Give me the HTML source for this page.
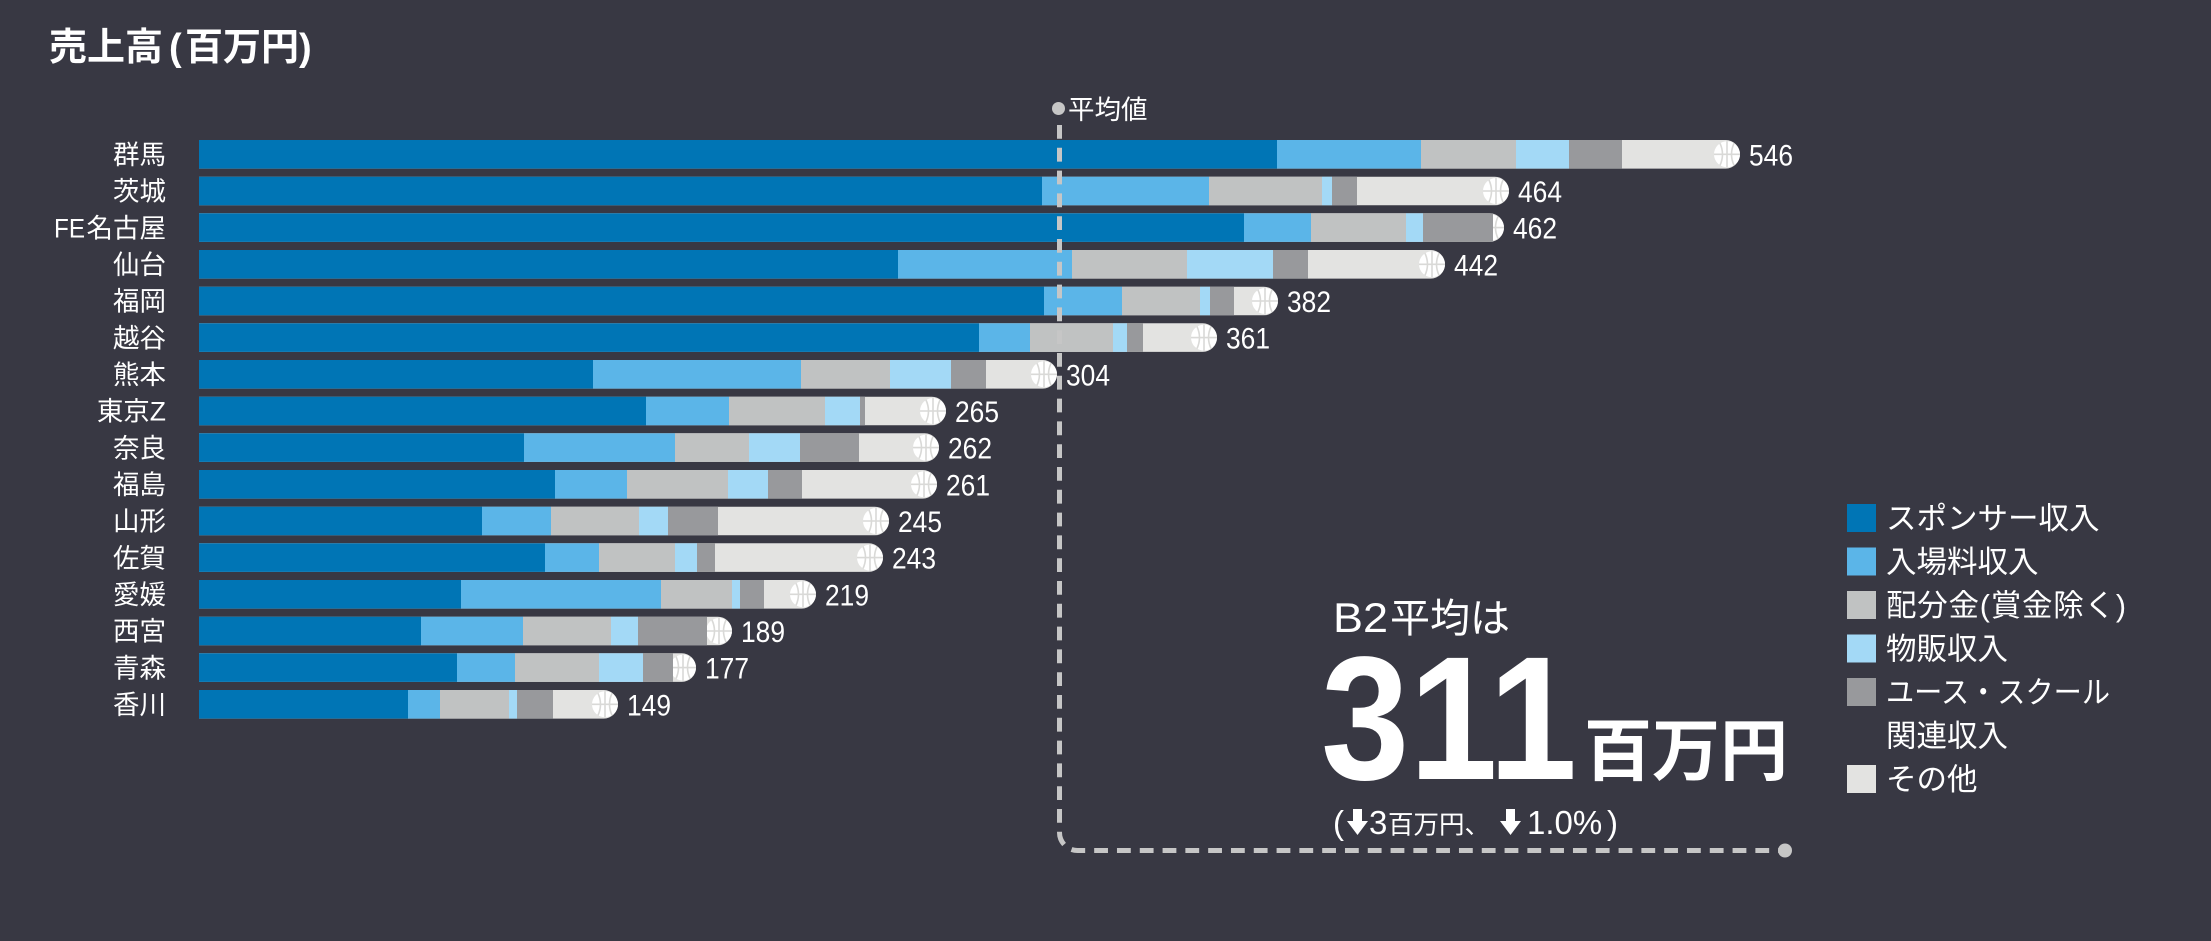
<!DOCTYPE html>
<html lang="ja">
<head>
<meta charset="utf-8">
<style>
html,body{margin:0;padding:0;background:#383843;}
svg{display:block;}
text{font-family:"Liberation Sans","Noto Sans CJK JP",sans-serif;fill:#ffffff;}
.a{fill:#0075b5}.b{fill:#5bb5e8}.c{fill:#c0c2c2}.d{fill:#a3d9f6}.e{fill:#98999c}.f{fill:#e3e3e1}
.yl{font-size:26.5px;text-anchor:end;}
.vl{font-size:30px;}
.lg{font-size:30.5px;}
</style>
</head>
<body>
<svg width="2211" height="941" viewBox="0 0 2211 941" xmlns="http://www.w3.org/2000/svg">
<defs>
<g id="ball"><circle r="13" fill="#ffffff"/><path d="M0 -13V13M-13 0H13M-7 -11Q-2 0 -7 11M7 -11Q2 0 7 11" stroke="#d9d9d7" stroke-width="1.6" fill="none"/></g>
</defs>
<rect width="2211" height="941" fill="#383843"/>

<!-- Title -->
<text y="60" style="font-size:38px;font-weight:700;"><tspan x="49">売上高</tspan><tspan x="169">(</tspan><tspan x="185">百万円</tspan><tspan x="299">)</tspan></text>

<!-- Row 0 群馬 -->
<path class="f" d="M199 140H1725.7A14.3 14.3 0 0 1 1725.7 168.6H199Z"/>
<use href="#ball" x="1727" y="154.3"/>
<rect class="a" x="199" y="140" width="1078" height="28.6"/>
<rect class="b" x="1277" y="140" width="144" height="28.6"/>
<rect class="c" x="1421" y="140" width="95" height="28.6"/>
<rect class="d" x="1516" y="140" width="53" height="28.6"/>
<rect class="e" x="1569" y="140" width="53" height="28.6"/>
<text class="vl" x="1749" y="165.3" textLength="44" lengthAdjust="spacingAndGlyphs">546</text>
<text class="yl" x="166" y="164">群馬</text>

<!-- Row 1 茨城 -->
<path class="f" d="M199 176.7H1494.7A14.3 14.3 0 0 1 1494.7 205.3H199Z"/>
<use href="#ball" x="1496" y="191"/>
<rect class="a" x="199" y="176.7" width="843" height="28.6"/>
<rect class="b" x="1042" y="176.7" width="167" height="28.6"/>
<rect class="c" x="1209" y="176.7" width="113" height="28.6"/>
<rect class="d" x="1322" y="176.7" width="10" height="28.6"/>
<rect class="e" x="1332" y="176.7" width="25" height="28.6"/>
<text class="vl" x="1518" y="202" textLength="44" lengthAdjust="spacingAndGlyphs">464</text>
<text class="yl" x="166" y="200.7">茨城</text>

<!-- Row 2 FE名古屋 -->
<path class="f" d="M199 213.3H1489.7A14.3 14.3 0 0 1 1489.7 241.9H199Z"/>
<use href="#ball" x="1491" y="227.6"/>
<rect class="a" x="199" y="213.3" width="1045" height="28.6"/>
<rect class="b" x="1244" y="213.3" width="67" height="28.6"/>
<rect class="c" x="1311" y="213.3" width="95" height="28.6"/>
<rect class="d" x="1406" y="213.3" width="17" height="28.6"/>
<rect class="e" x="1423" y="213.3" width="70" height="28.6"/>
<text class="vl" x="1513" y="238.6" textLength="44" lengthAdjust="spacingAndGlyphs">462</text>
<text class="yl" x="166" y="237.3">名古屋</text>
<text x="54" y="237.3" style="font-size:26.5px;" textLength="31" lengthAdjust="spacingAndGlyphs">FE</text>

<!-- Row 3 仙台 -->
<path class="f" d="M199 250H1430.7A14.3 14.3 0 0 1 1430.7 278.6H199Z"/>
<use href="#ball" x="1432" y="264.3"/>
<rect class="a" x="199" y="250" width="699" height="28.6"/>
<rect class="b" x="898" y="250" width="174" height="28.6"/>
<rect class="c" x="1072" y="250" width="115" height="28.6"/>
<rect class="d" x="1187" y="250" width="86" height="28.6"/>
<rect class="e" x="1273" y="250" width="35" height="28.6"/>
<text class="vl" x="1454" y="275.3" textLength="44" lengthAdjust="spacingAndGlyphs">442</text>
<text class="yl" x="166" y="274">仙台</text>

<!-- Row 4 福岡 -->
<path class="f" d="M199 286.7H1263.7A14.3 14.3 0 0 1 1263.7 315.3H199Z"/>
<use href="#ball" x="1265" y="301"/>
<rect class="a" x="199" y="286.7" width="845" height="28.6"/>
<rect class="b" x="1044" y="286.7" width="78" height="28.6"/>
<rect class="c" x="1122" y="286.7" width="78" height="28.6"/>
<rect class="d" x="1200" y="286.7" width="10" height="28.6"/>
<rect class="e" x="1210" y="286.7" width="24" height="28.6"/>
<text class="vl" x="1287" y="312" textLength="44" lengthAdjust="spacingAndGlyphs">382</text>
<text class="yl" x="166" y="310.7">福岡</text>

<!-- Row 5 越谷 -->
<path class="f" d="M199 323.3H1202.7A14.3 14.3 0 0 1 1202.7 351.9H199Z"/>
<use href="#ball" x="1204" y="337.6"/>
<rect class="a" x="199" y="323.3" width="780" height="28.6"/>
<rect class="b" x="979" y="323.3" width="51" height="28.6"/>
<rect class="c" x="1030" y="323.3" width="83" height="28.6"/>
<rect class="d" x="1113" y="323.3" width="14" height="28.6"/>
<rect class="e" x="1127" y="323.3" width="16" height="28.6"/>
<text class="vl" x="1226" y="348.6" textLength="44" lengthAdjust="spacingAndGlyphs">361</text>
<text class="yl" x="166" y="347.3">越谷</text>

<!-- Row 6 熊本 -->
<path class="f" d="M199 360H1042.7A14.3 14.3 0 0 1 1042.7 388.6H199Z"/>
<use href="#ball" x="1044" y="374.3"/>
<rect class="a" x="199" y="360" width="394" height="28.6"/>
<rect class="b" x="593" y="360" width="208" height="28.6"/>
<rect class="c" x="801" y="360" width="89" height="28.6"/>
<rect class="d" x="890" y="360" width="61" height="28.6"/>
<rect class="e" x="951" y="360" width="35" height="28.6"/>
<text class="vl" x="1066" y="385.3" textLength="44" lengthAdjust="spacingAndGlyphs">304</text>
<text class="yl" x="166" y="384">熊本</text>

<!-- Row 7 東京Z -->
<path class="f" d="M199 396.7H931.7A14.3 14.3 0 0 1 931.7 425.3H199Z"/>
<use href="#ball" x="933" y="411"/>
<rect class="a" x="199" y="396.7" width="447" height="28.6"/>
<rect class="b" x="646" y="396.7" width="83" height="28.6"/>
<rect class="c" x="729" y="396.7" width="96" height="28.6"/>
<rect class="d" x="825" y="396.7" width="35" height="28.6"/>
<rect class="e" x="860" y="396.7" width="5" height="28.6"/>
<text class="vl" x="955" y="422" textLength="44" lengthAdjust="spacingAndGlyphs">265</text>
<text class="yl" x="166" y="420.7">東京Z</text>

<!-- Row 8 奈良 -->
<path class="f" d="M199 433.3H924.7A14.3 14.3 0 0 1 924.7 461.9H199Z"/>
<use href="#ball" x="926" y="447.6"/>
<rect class="a" x="199" y="433.3" width="325" height="28.6"/>
<rect class="b" x="524" y="433.3" width="151" height="28.6"/>
<rect class="c" x="675" y="433.3" width="74" height="28.6"/>
<rect class="d" x="749" y="433.3" width="51" height="28.6"/>
<rect class="e" x="800" y="433.3" width="59" height="28.6"/>
<text class="vl" x="948" y="458.6" textLength="44" lengthAdjust="spacingAndGlyphs">262</text>
<text class="yl" x="166" y="457.3">奈良</text>

<!-- Row 9 福島 -->
<path class="f" d="M199 470H922.7A14.3 14.3 0 0 1 922.7 498.6H199Z"/>
<use href="#ball" x="924" y="484.3"/>
<rect class="a" x="199" y="470" width="356" height="28.6"/>
<rect class="b" x="555" y="470" width="72" height="28.6"/>
<rect class="c" x="627" y="470" width="101" height="28.6"/>
<rect class="d" x="728" y="470" width="40" height="28.6"/>
<rect class="e" x="768" y="470" width="34" height="28.6"/>
<text class="vl" x="946" y="495.3" textLength="44" lengthAdjust="spacingAndGlyphs">261</text>
<text class="yl" x="166" y="494">福島</text>

<!-- Row 10 山形 -->
<path class="f" d="M199 506.7H874.7A14.3 14.3 0 0 1 874.7 535.3H199Z"/>
<use href="#ball" x="876" y="521"/>
<rect class="a" x="199" y="506.7" width="283" height="28.6"/>
<rect class="b" x="482" y="506.7" width="69" height="28.6"/>
<rect class="c" x="551" y="506.7" width="88" height="28.6"/>
<rect class="d" x="639" y="506.7" width="29" height="28.6"/>
<rect class="e" x="668" y="506.7" width="50" height="28.6"/>
<text class="vl" x="898" y="532" textLength="44" lengthAdjust="spacingAndGlyphs">245</text>
<text class="yl" x="166" y="530.7">山形</text>

<!-- Row 11 佐賀 -->
<path class="f" d="M199 543.3H868.7A14.3 14.3 0 0 1 868.7 571.9H199Z"/>
<use href="#ball" x="870" y="557.6"/>
<rect class="a" x="199" y="543.3" width="346" height="28.6"/>
<rect class="b" x="545" y="543.3" width="54" height="28.6"/>
<rect class="c" x="599" y="543.3" width="76" height="28.6"/>
<rect class="d" x="675" y="543.3" width="22" height="28.6"/>
<rect class="e" x="697" y="543.3" width="18" height="28.6"/>
<text class="vl" x="892" y="568.6" textLength="44" lengthAdjust="spacingAndGlyphs">243</text>
<text class="yl" x="166" y="567.3">佐賀</text>

<!-- Row 12 愛媛 -->
<path class="f" d="M199 580H801.7A14.3 14.3 0 0 1 801.7 608.6H199Z"/>
<use href="#ball" x="803" y="594.3"/>
<rect class="a" x="199" y="580" width="262" height="28.6"/>
<rect class="b" x="461" y="580" width="200" height="28.6"/>
<rect class="c" x="661" y="580" width="71" height="28.6"/>
<rect class="d" x="732" y="580" width="8" height="28.6"/>
<rect class="e" x="740" y="580" width="24" height="28.6"/>
<text class="vl" x="825" y="605.3" textLength="44" lengthAdjust="spacingAndGlyphs">219</text>
<text class="yl" x="166" y="604">愛媛</text>

<!-- Row 13 西宮 -->
<path class="f" d="M199 616.7H717.7A14.3 14.3 0 0 1 717.7 645.3H199Z"/>
<use href="#ball" x="719" y="631"/>
<rect class="a" x="199" y="616.7" width="222" height="28.6"/>
<rect class="b" x="421" y="616.7" width="102" height="28.6"/>
<rect class="c" x="523" y="616.7" width="88" height="28.6"/>
<rect class="d" x="611" y="616.7" width="27" height="28.6"/>
<rect class="e" x="638" y="616.7" width="69" height="28.6"/>
<text class="vl" x="741" y="642" textLength="44" lengthAdjust="spacingAndGlyphs">189</text>
<text class="yl" x="166" y="640.7">西宮</text>

<!-- Row 14 青森 -->
<path class="f" d="M199 653.3H681.7A14.3 14.3 0 0 1 681.7 681.9H199Z"/>
<use href="#ball" x="683" y="667.6"/>
<rect class="a" x="199" y="653.3" width="258" height="28.6"/>
<rect class="b" x="457" y="653.3" width="58" height="28.6"/>
<rect class="c" x="515" y="653.3" width="84" height="28.6"/>
<rect class="d" x="599" y="653.3" width="44" height="28.6"/>
<rect class="e" x="643" y="653.3" width="30" height="28.6"/>
<text class="vl" x="705" y="678.6" textLength="44" lengthAdjust="spacingAndGlyphs">177</text>
<text class="yl" x="166" y="677.3">青森</text>

<!-- Row 15 香川 -->
<path class="f" d="M199 690H603.7A14.3 14.3 0 0 1 603.7 718.6H199Z"/>
<use href="#ball" x="605" y="704.3"/>
<rect class="a" x="199" y="690" width="209" height="28.6"/>
<rect class="b" x="408" y="690" width="32" height="28.6"/>
<rect class="c" x="440" y="690" width="69" height="28.6"/>
<rect class="d" x="509" y="690" width="8" height="28.6"/>
<rect class="e" x="517" y="690" width="36" height="28.6"/>
<text class="vl" x="627" y="715.3" textLength="44" lengthAdjust="spacingAndGlyphs">149</text>
<text class="yl" x="166" y="714">香川</text>

<!-- Average line -->
<path d="M1059.5 125V832.5A18 18 0 0 0 1077.5 850.5H1785" fill="none" stroke="#c6c6c6" stroke-width="5" stroke-dasharray="13.8 9"/>
<circle cx="1058.5" cy="108.5" r="6.5" fill="#c6c6c6"/>
<circle cx="1785" cy="850.5" r="7" fill="#c6c6c6"/>
<text x="1068" y="119" style="font-size:26.5px;">平均値</text>

<!-- Big average text -->
<text x="1333" y="632" style="font-size:42px;" textLength="55" lengthAdjust="spacingAndGlyphs">B2</text>
<text x="1390" y="632" style="font-size:40px;">平均は</text>
<text x="1321" y="779" style="font-size:176px;font-weight:700;" textLength="256" lengthAdjust="spacingAndGlyphs">311</text>
<text x="1584" y="775" style="font-size:68px;font-weight:700;">百万円</text>

<!-- Sub line -->
<text x="1333" y="834" style="font-size:33px;">(</text>
<polygon points="1353,809 1362,809 1362,821 1368,821 1357.5,835 1347,821 1353,821" fill="#ffffff"/>
<text x="1369" y="834" style="font-size:33px;">3</text>
<text x="1388" y="833.5" style="font-size:25.5px;">百万円、</text>
<polygon points="1506,809 1515,809 1515,821 1521,821 1510.5,835 1500,821 1506,821" fill="#ffffff"/>
<text x="1527" y="834" style="font-size:33px;">1.0%</text>
<text x="1607" y="834" style="font-size:33px;">)</text>

<!-- Legend -->
<rect class="a" x="1847" y="504" width="29" height="28"/>
<text class="lg" x="1886" y="529">スポンサー収入</text>
<rect class="b" x="1847" y="547.5" width="29" height="28"/>
<text class="lg" x="1886" y="572.5">入場料収入</text>
<rect class="c" x="1847" y="591" width="29" height="28"/>
<text class="lg" x="1886" y="616" textLength="240" lengthAdjust="spacing">配分金(賞金除く)</text>
<rect class="d" x="1847" y="634.5" width="29" height="28"/>
<text class="lg" x="1886" y="659.5">物販収入</text>
<rect class="e" x="1847" y="678" width="29" height="28"/>
<text class="lg" x="1886" y="703" textLength="224" lengthAdjust="spacingAndGlyphs">ユース・スクール</text>
<text class="lg" x="1886" y="746.5">関連収入</text>
<rect class="f" x="1847" y="765" width="29" height="28"/>
<text class="lg" x="1886" y="790">その他</text>
</svg>
</body>
</html>
